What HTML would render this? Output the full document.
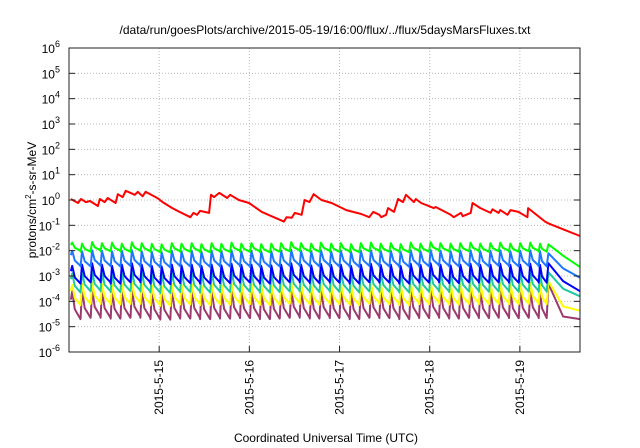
<!DOCTYPE html>
<html><head><meta charset="utf-8"><style>
html,body{margin:0;padding:0;background:#fff;width:640px;height:448px;overflow:hidden}
svg{display:block;font-family:"Liberation Sans",sans-serif}
</style></head><body>
<svg id="chart" width="640" height="448" viewBox="0 0 640 448">
<text x="325" y="34" text-anchor="middle" font-size="12" fill="#000">/data/run/goesPlots/archive/2015-05-19/16:00/flux/../flux/5daysMarsFluxes.txt</text>
<text x="326" y="442" text-anchor="middle" font-size="12" fill="#000">Coordinated Universal Time (UTC)</text>
<text transform="translate(36,200) rotate(-90)" text-anchor="middle" font-size="12" fill="#000">protons/cm<tspan dy="-5" font-size="8">2</tspan><tspan dy="5">-s-sr-MeV</tspan></text>
<g id="grid"></g><g id="series"></g><g id="axes"></g>
</svg>
<script>
// x in hours from 2015-05-14 00:00; y log10 flux
const xTickLabels = ["2015-5-15","2015-5-16","2015-5-17","2015-5-18","2015-5-19"];
const xTickHours = [24,48,72,96,120];
const yTickExps = [-6,-5,-4,-3,-2,-1,0,1,2,3,4,5,6];
const redHours = [0.5,2.4,3.2,4.5,5.6,7.7,8.2,9.5,10.3,12.4,13.0,14.3,15.1,17.5,18.3,19.6,20.4,23.5,24.9,27.5,29.4,32.3,33.1,34.1,34.9,37.3,37.8,38.6,40.0,42.1,42.9,45.2,47.9,51.3,54.5,57.2,57.9,59.3,60.1,61.9,62.7,64.0,65.1,67.2,69.9,73.8,77.8,79.9,81.0,82.6,83.1,84.4,84.9,86.5,87.6,88.9,89.7,91.8,92.3,93.7,97.1,97.6,101.6,102.4,104.3,104.8,106.9,107.4,109.5,112.2,112.7,114.3,114.8,116.7,117.5,119.6,122.0,122.2,126.7,127.5,131.5,136.0];
const redFlux = [1.1,0.76,1.1,0.83,0.91,0.58,1.1,0.83,1.2,0.76,1.7,1.3,2.3,1.6,2.1,1.4,2.1,1.2,0.83,0.48,0.34,0.21,0.31,0.26,0.37,0.31,1.6,1.3,1.9,1.2,1.6,1.0,0.76,0.34,0.21,0.14,0.21,0.2,0.31,0.26,1.0,0.83,1.7,1.0,0.76,0.40,0.28,0.21,0.34,0.26,0.21,0.26,0.48,0.34,1.1,0.83,1.6,0.83,1.1,0.76,0.48,0.53,0.26,0.21,0.31,0.23,0.31,0.76,0.48,0.31,0.43,0.31,0.40,0.26,0.40,0.34,0.21,0.48,0.14,0.12,0.07,0.038];
const cycleHours = [0.5,3.1,5.8,8.4,11.1,13.7,16.4,19.0,21.7,24.3,27.0,29.6,32.3,34.9,37.6,40.2,42.9,45.5,48.2,50.8,53.5,56.1,58.8,61.4,64.1,66.7,69.4,72.0,74.7,77.3,80.0,82.6,85.3,87.9,90.6,93.2,95.9,98.5,101.2,103.8,106.5,109.1,111.8,114.4,117.1,119.7,122.4,125.0];
const greenPeaks = [-1.68,-1.72,-1.66,-1.7,-1.68,-1.72,-1.67,-1.7,-1.73,-1.75,-1.7,-1.72,-1.7,-1.74,-1.7,-1.73,-1.68,-1.72,-1.7,-1.74,-1.72,-1.7,-1.66,-1.7,-1.72,-1.68,-1.72,-1.7,-1.74,-1.7,-1.68,-1.72,-1.7,-1.74,-1.68,-1.72,-1.66,-1.7,-1.72,-1.7,-1.68,-1.72,-1.7,-1.68,-1.72,-1.7,-1.68,-1.72];
const lblueDepth = 0.6, greenDepth = 0.32, blueDepth = 0.7, tealDepth = 0.75, yellowDepth = 0.8, purpleDepth = 1.1;
const lbluePeaks = [-2.0,-2.02,-1.98,-2.0,-2.02,-2.0,-1.98,-2.02,-2.04,-2.06,-2.0,-2.02,-2.0,-2.04,-2.0,-2.02,-1.98,-2.02,-2.0,-2.04,-2.02,-2.0,-1.97,-2.0,-2.02,-1.98,-2.02,-2.0,-2.04,-2.0,-1.98,-2.02,-2.0,-2.04,-1.98,-2.02,-1.97,-2.0,-2.02,-2.0,-1.98,-2.02,-2.0,-1.98,-2.02,-2.0,-1.98,-2.02];
const bluePeaks = [-2.6,-2.55,-2.5,-2.55,-2.6,-2.55,-2.5,-2.55,-2.6,-2.62,-2.55,-2.58,-2.55,-2.6,-2.55,-2.58,-2.52,-2.56,-2.55,-2.6,-2.58,-2.55,-2.5,-2.55,-2.58,-2.52,-2.56,-2.55,-2.6,-2.55,-2.52,-2.56,-2.55,-2.6,-2.52,-2.56,-2.5,-2.55,-2.58,-2.55,-2.52,-2.56,-2.55,-2.52,-2.56,-2.55,-2.52,-2.56];
const tealPeaks = [-2.9,-2.85,-2.82,-2.85,-2.88,-2.85,-2.82,-2.86,-2.9,-2.92,-2.86,-2.88,-2.86,-2.9,-2.86,-2.88,-2.83,-2.87,-2.86,-2.9,-2.88,-2.86,-2.82,-2.86,-2.88,-2.83,-2.87,-2.86,-2.9,-2.86,-2.83,-2.87,-2.86,-2.9,-2.83,-2.87,-2.82,-2.86,-2.88,-2.86,-2.83,-2.87,-2.86,-2.83,-2.87,-2.86,-2.83,-2.87];
const yellowPeaks = [-3.35,-3.3,-3.25,-3.3,-3.32,-3.3,-3.25,-3.3,-3.35,-3.38,-3.3,-3.33,-3.3,-3.35,-3.3,-3.33,-3.27,-3.31,-3.3,-3.35,-3.33,-3.3,-3.25,-3.3,-3.33,-3.27,-3.31,-3.3,-3.35,-3.3,-3.27,-3.31,-3.3,-3.35,-3.27,-3.31,-3.25,-3.3,-3.33,-3.3,-3.27,-3.31,-3.3,-3.27,-3.31,-3.3,-3.27,-3.31];
const purplePeaks = [-3.6,-3.55,-3.5,-3.55,-3.58,-3.55,-3.5,-3.55,-3.6,-3.62,-3.55,-3.58,-3.55,-3.6,-3.55,-3.58,-3.52,-3.56,-3.55,-3.6,-3.58,-3.55,-3.5,-3.55,-3.58,-3.52,-3.56,-3.55,-3.6,-3.55,-3.52,-3.56,-3.55,-3.6,-3.52,-3.56,-3.5,-3.55,-3.58,-3.55,-3.52,-3.56,-3.55,-3.52,-3.56,-3.55,-3.52,-3.56];
const tailHours = [127.6, 131.5, 136.0];
const greenTail = [-1.75,-2.2,-2.64];
const lblueTail = [-2.1,-2.7,-3.07];
const blueTail = [-2.5,-3.2,-3.6];
const tealTail = [-2.85,-3.5,-3.8];
const yellowTail = [-3.2,-4.2,-4.37];
const purpleTail = [-3.3,-4.6,-4.7];

const L=69,R=580,T=48,B=352,H0=0,H1=136;
const xs=h=>L+(h-H0)/(H1-H0)*(R-L);
const ys=e=>B-(e+6)/12*(B-T);
const NS="http://www.w3.org/2000/svg";
function mk(tag,parent){const e=document.createElementNS(NS,tag);parent.appendChild(e);return e;}
const grid=document.getElementById('grid'),axes=document.getElementById('axes'),ser=document.getElementById('series');

yTickExps.forEach(e=>{
  const y=ys(e);
  if(e>-6&&e<6){const g=mk('line',grid);g.setAttribute('x1',L);g.setAttribute('x2',R);g.setAttribute('y1',y);g.setAttribute('y2',y);g.setAttribute('stroke','#bbb');g.setAttribute('stroke-dasharray','1,2');
  
  }
  const t1=mk('line',axes);t1.setAttribute('x1',L);t1.setAttribute('x2',L+6);t1.setAttribute('y1',y);t1.setAttribute('y2',y);t1.setAttribute('stroke','#222');
  
  
  const t2=mk('line',axes);t2.setAttribute('x1',R);t2.setAttribute('x2',R-6);t2.setAttribute('y1',y);t2.setAttribute('y2',y);t2.setAttribute('stroke','#222');
  
  
  const tx=mk('text',axes);tx.setAttribute('x',L-9);tx.setAttribute('y',y+5);tx.setAttribute('text-anchor','end');tx.setAttribute('font-size','12');
  
  
  tx.innerHTML='10<tspan dy="-6" font-size="9">'+e+'</tspan>';
});
xTickHours.forEach((h,i)=>{
  const x=xs(h);
  const g=mk('line',grid);g.setAttribute('x1',x);g.setAttribute('x2',x);g.setAttribute('y1',T);g.setAttribute('y2',B);g.setAttribute('stroke','#bbb');g.setAttribute('stroke-dasharray','1,2');
  
  
  const t=mk('line',axes);t.setAttribute('x1',x);t.setAttribute('x2',x);t.setAttribute('y1',B);t.setAttribute('y2',B-6);t.setAttribute('stroke','#222');
  
  
  const tx=mk('text',axes);tx.setAttribute('transform','translate('+(x+4)+','+(B+8)+') rotate(-90)');tx.setAttribute('text-anchor','end');tx.setAttribute('font-size','12');
  
  
  tx.textContent=xTickLabels[i];
});
const frame=mk('rect',axes);frame.setAttribute('x',L);frame.setAttribute('y',T);frame.setAttribute('width',R-L);frame.setAttribute('height',B-T);frame.setAttribute('fill','none');frame.setAttribute('stroke','#222');



function saw(peaks,depth,tail,color,name){
  const pts=[];
  for(let i=0;i<cycleHours.length;i++){
    const t0=cycleHours[i],t1=i+1<cycleHours.length?cycleHours[i+1]:tailHours[0]-0.4;
    if(i>0)pts.push([t0,peaks[i]-depth]); else pts.push([t0,peaks[i]-depth*0.3]);
    pts.push([t0+0.35,peaks[i]]);
    pts.push([t0+(t1-t0)*0.4,peaks[i]-depth*0.65]);
    pts.push([t1-0.05,peaks[i]-depth]);
  }
  tailHours.forEach((h,i)=>pts.push([h,tail[i]]));
  const p=mk('polyline',ser);p.setAttribute('points',pts.map(q=>xs(q[0]).toFixed(1)+','+ys(q[1]).toFixed(1)).join(' '));
  p.setAttribute('fill','none');p.setAttribute('stroke',color);p.setAttribute('stroke-width','2');p.setAttribute('stroke-linejoin','round');
  
  
}
saw(purplePeaks,purpleDepth,purpleTail,'#9b3a6e','series-purple');
saw(yellowPeaks,yellowDepth,yellowTail,'#ffff00','series-yellow');
saw(tealPeaks,tealDepth,tealTail,'#20c8a0','series-teal');
saw(bluePeaks,blueDepth,blueTail,'#0000ff','series-blue');
saw(lbluePeaks,lblueDepth,lblueTail,'#1e78ff','series-light-blue');
saw(greenPeaks,greenDepth,greenTail,'#00ff00','series-green');
const red=mk('polyline',ser);
red.setAttribute('points',redHours.map((h,i)=>xs(h).toFixed(1)+','+ys(Math.log10(redFlux[i])).toFixed(1)).join(' '));
red.setAttribute('fill','none');red.setAttribute('stroke','#ff0000');red.setAttribute('stroke-width','2');red.setAttribute('stroke-linejoin','round');


</script>
</body></html>
